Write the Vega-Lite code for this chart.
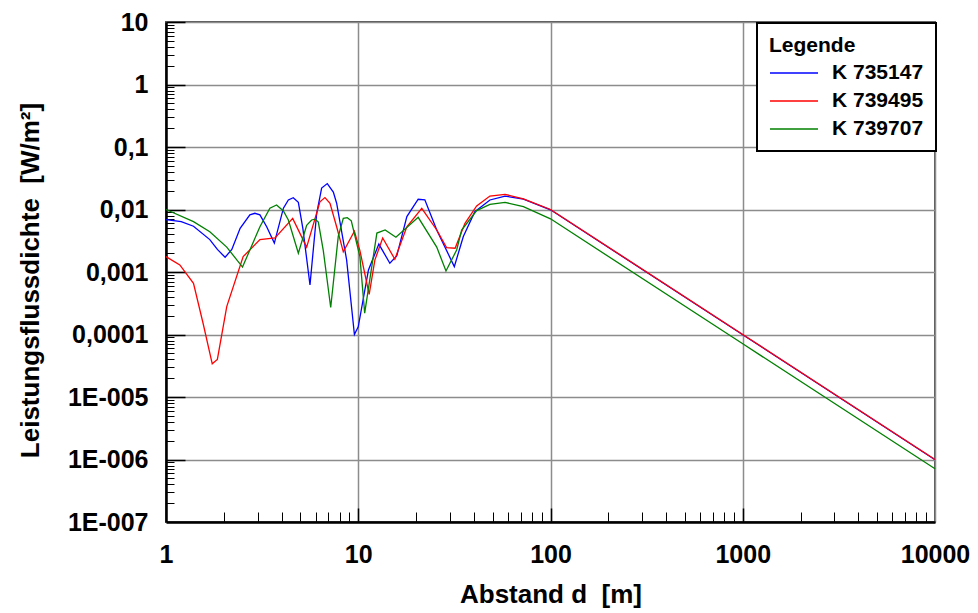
{
  "$schema": "https://vega.github.io/schema/vega-lite/v6.json",
  "width": 769,
  "height": 500,
  "autosize": "none",
  "padding": {"left": 166, "top": 22, "right": 43, "bottom": 91},
  "background": "white",
  "config": {
    "font": "Liberation Sans",
    "view": {"stroke": "#555555", "strokeWidth": 2},
    "legend": {"strokeWidth": 2},
    "axis": {
      "labelFont": "Liberation Sans", "labelFontWeight": "bold", "labelFontSize": 25, "labelColor": "black",
      "titleFont": "Liberation Sans", "titleFontWeight": "bold", "titleFontSize": 26, "titleColor": "black",
      "gridColor": "#8c8c8c", "gridWidth": 1.5, "gridOpacity": 1,
      "domainColor": "black", "domainWidth": 2.5, "tickColor": "black"
    }
  },
  "data": {"values": [
    {"s": "K 735147", "d": 1, "p": 0.0069},
    {"s": "K 735147", "d": 1.2, "p": 0.0064},
    {"s": "K 735147", "d": 1.39, "p": 0.0054},
    {"s": "K 735147", "d": 1.69, "p": 0.0033},
    {"s": "K 735147", "d": 1.85, "p": 0.0023},
    {"s": "K 735147", "d": 2.03, "p": 0.00172},
    {"s": "K 735147", "d": 2.2, "p": 0.0023},
    {"s": "K 735147", "d": 2.43, "p": 0.005},
    {"s": "K 735147", "d": 2.73, "p": 0.0082},
    {"s": "K 735147", "d": 2.9, "p": 0.0087},
    {"s": "K 735147", "d": 3.08, "p": 0.0082},
    {"s": "K 735147", "d": 3.34, "p": 0.0053},
    {"s": "K 735147", "d": 3.66, "p": 0.0029},
    {"s": "K 735147", "d": 4.08, "p": 0.0105},
    {"s": "K 735147", "d": 4.33, "p": 0.0142},
    {"s": "K 735147", "d": 4.59, "p": 0.0154},
    {"s": "K 735147", "d": 4.88, "p": 0.013},
    {"s": "K 735147", "d": 5.15, "p": 0.005},
    {"s": "K 735147", "d": 5.61, "p": 0.00062},
    {"s": "K 735147", "d": 6.08, "p": 0.0087},
    {"s": "K 735147", "d": 6.45, "p": 0.022},
    {"s": "K 735147", "d": 6.9, "p": 0.026},
    {"s": "K 735147", "d": 7.42, "p": 0.019},
    {"s": "K 735147", "d": 7.72, "p": 0.0126},
    {"s": "K 735147", "d": 8.7, "p": 0.00156},
    {"s": "K 735147", "d": 9.55, "p": 0.0001},
    {"s": "K 735147", "d": 10.0, "p": 0.000133},
    {"s": "K 735147", "d": 11.3, "p": 0.00108},
    {"s": "K 735147", "d": 12.8, "p": 0.0028},
    {"s": "K 735147", "d": 14.6, "p": 0.00138},
    {"s": "K 735147", "d": 15.85, "p": 0.0018},
    {"s": "K 735147", "d": 17.9, "p": 0.0077},
    {"s": "K 735147", "d": 20.5, "p": 0.0146},
    {"s": "K 735147", "d": 22.2, "p": 0.0143},
    {"s": "K 735147", "d": 25.6, "p": 0.0047},
    {"s": "K 735147", "d": 31.6, "p": 0.00122},
    {"s": "K 735147", "d": 35.2, "p": 0.0037},
    {"s": "K 735147", "d": 40.4, "p": 0.0092},
    {"s": "K 735147", "d": 48.4, "p": 0.0142},
    {"s": "K 735147", "d": 58, "p": 0.0164},
    {"s": "K 735147", "d": 72.3, "p": 0.0147},
    {"s": "K 735147", "d": 100, "p": 0.0099},
    {"s": "K 735147", "d": 1000, "p": 0.000099},
    {"s": "K 735147", "d": 10000, "p": 0.00000099},

    {"s": "K 739495", "d": 1, "p": 0.00176},
    {"s": "K 739495", "d": 1.18, "p": 0.0013},
    {"s": "K 739495", "d": 1.39, "p": 0.00066},
    {"s": "K 739495", "d": 1.56, "p": 0.00015},
    {"s": "K 739495", "d": 1.74, "p": 0.000034},
    {"s": "K 739495", "d": 1.85, "p": 0.00004},
    {"s": "K 739495", "d": 2.07, "p": 0.00028},
    {"s": "K 739495", "d": 2.52, "p": 0.00176},
    {"s": "K 739495", "d": 3.08, "p": 0.0033},
    {"s": "K 739495", "d": 3.69, "p": 0.0035},
    {"s": "K 739495", "d": 4.56, "p": 0.0072},
    {"s": "K 739495", "d": 5.39, "p": 0.0025},
    {"s": "K 739495", "d": 6.0, "p": 0.0077},
    {"s": "K 739495", "d": 6.32, "p": 0.0133},
    {"s": "K 739495", "d": 6.71, "p": 0.0155},
    {"s": "K 739495", "d": 7.13, "p": 0.0126},
    {"s": "K 739495", "d": 7.72, "p": 0.0053},
    {"s": "K 739495", "d": 8.36, "p": 0.0021},
    {"s": "K 739495", "d": 9.55, "p": 0.0045},
    {"s": "K 739495", "d": 10.2, "p": 0.0022},
    {"s": "K 739495", "d": 11.4, "p": 0.00044},
    {"s": "K 739495", "d": 12.2, "p": 0.00155},
    {"s": "K 739495", "d": 13.4, "p": 0.0035},
    {"s": "K 739495", "d": 15.5, "p": 0.0016},
    {"s": "K 739495", "d": 17.9, "p": 0.0053},
    {"s": "K 739495", "d": 21.4, "p": 0.0104},
    {"s": "K 739495", "d": 25.6, "p": 0.0047},
    {"s": "K 739495", "d": 28.8, "p": 0.00245},
    {"s": "K 739495", "d": 31.9, "p": 0.0024},
    {"s": "K 739495", "d": 35.9, "p": 0.006},
    {"s": "K 739495", "d": 41.3, "p": 0.0114},
    {"s": "K 739495", "d": 48.4, "p": 0.0164},
    {"s": "K 739495", "d": 58, "p": 0.0175},
    {"s": "K 739495", "d": 72.3, "p": 0.0148},
    {"s": "K 739495", "d": 100, "p": 0.01},
    {"s": "K 739495", "d": 1000, "p": 0.0001},
    {"s": "K 739495", "d": 10000, "p": 0.000001},

    {"s": "K 739707", "d": 1, "p": 0.01},
    {"s": "K 739707", "d": 1.39, "p": 0.0064},
    {"s": "K 739707", "d": 1.69, "p": 0.0044},
    {"s": "K 739707", "d": 2.07, "p": 0.0025},
    {"s": "K 739707", "d": 2.5, "p": 0.0012},
    {"s": "K 739707", "d": 3.08, "p": 0.0053},
    {"s": "K 739707", "d": 3.47, "p": 0.0105},
    {"s": "K 739707", "d": 3.76, "p": 0.0118},
    {"s": "K 739707", "d": 4.08, "p": 0.0095},
    {"s": "K 739707", "d": 4.33, "p": 0.0068},
    {"s": "K 739707", "d": 4.88, "p": 0.002},
    {"s": "K 739707", "d": 5.39, "p": 0.0056},
    {"s": "K 739707", "d": 5.72, "p": 0.0068},
    {"s": "K 739707", "d": 5.96, "p": 0.007},
    {"s": "K 739707", "d": 6.2, "p": 0.0063},
    {"s": "K 739707", "d": 6.58, "p": 0.0022},
    {"s": "K 739707", "d": 7.19, "p": 0.00027},
    {"s": "K 739707", "d": 7.87, "p": 0.0037},
    {"s": "K 739707", "d": 8.36, "p": 0.0072},
    {"s": "K 739707", "d": 8.77, "p": 0.0074},
    {"s": "K 739707", "d": 9.2, "p": 0.0066},
    {"s": "K 739707", "d": 10.2, "p": 0.00176},
    {"s": "K 739707", "d": 10.8, "p": 0.00022},
    {"s": "K 739707", "d": 12.5, "p": 0.0042},
    {"s": "K 739707", "d": 13.8, "p": 0.0047},
    {"s": "K 739707", "d": 15.7, "p": 0.0036},
    {"s": "K 739707", "d": 20.5, "p": 0.0075},
    {"s": "K 739707", "d": 25.6, "p": 0.0025},
    {"s": "K 739707", "d": 28.6, "p": 0.00104},
    {"s": "K 739707", "d": 32.5, "p": 0.00225},
    {"s": "K 739707", "d": 34.5, "p": 0.0047},
    {"s": "K 739707", "d": 41.3, "p": 0.0096},
    {"s": "K 739707", "d": 48.4, "p": 0.0121},
    {"s": "K 739707", "d": 58, "p": 0.013},
    {"s": "K 739707", "d": 72.3, "p": 0.0111},
    {"s": "K 739707", "d": 100, "p": 0.0071},
    {"s": "K 739707", "d": 1000, "p": 0.000071},
    {"s": "K 739707", "d": 10000, "p": 0.00000071}
  ]},
  "resolve": {"axis": {"x": "independent", "y": "independent"}},
  "layer": [
    {
      "mark": {"type": "line", "opacity": 0},
      "encoding": {
        "x": {"field": "d", "type": "quantitative", "scale": {"type": "log", "domain": [1, 10000], "nice": false},
          "axis": {"orient": "bottom", "values": [2,3,4,5,6,7,8,9,20,30,40,50,60,70,80,90,200,300,400,500,600,700,800,900,2000,3000,4000,5000,6000,7000,8000,9000],
            "labels": false, "domain": false, "grid": false, "ticks": true, "tickSize": -10, "tickWidth": 1, "title": null}},
        "y": {"field": "p", "type": "quantitative", "scale": {"type": "log", "domain": [0.0000001, 10], "nice": false},
          "axis": {"orient": "left", "values": [2e-7,3e-7,4e-7,5e-7,6e-7,7e-7,8e-7,9e-7,2e-6,3e-6,4e-6,5e-6,6e-6,7e-6,8e-6,9e-6,2e-5,3e-5,4e-5,5e-5,6e-5,7e-5,8e-5,9e-5,2e-4,3e-4,4e-4,5e-4,6e-4,7e-4,8e-4,9e-4,0.002,0.003,0.004,0.005,0.006,0.007,0.008,0.009,0.02,0.03,0.04,0.05,0.06,0.07,0.08,0.09,0.2,0.3,0.4,0.5,0.6,0.7,0.8,0.9,2,3,4,5,6,7,8,9],
            "labels": false, "domain": false, "grid": false, "ticks": true, "tickSize": -8, "tickWidth": 1, "title": null}}
      }
    },
    {
      "mark": {"type": "line", "opacity": 0},
      "encoding": {
        "x": {"field": "d", "type": "quantitative",
          "axis": {"orient": "bottom", "values": [10, 100, 1000], "labels": false, "domain": false, "grid": false, "ticks": true, "tickSize": -14, "tickWidth": 1.5, "title": null}},
        "y": {"field": "p", "type": "quantitative",
          "axis": {"orient": "left", "values": [0.000001, 0.00001, 0.0001, 0.001, 0.01, 0.1, 1, 10], "labels": false, "domain": false, "grid": false, "ticks": true, "tickSize": -19, "tickWidth": 1.5, "title": null}}
      }
    },
    {
      "mark": {"type": "line", "strokeWidth": 1.3},
      "encoding": {
        "x": {"field": "d", "type": "quantitative",
          "axis": {"orient": "bottom", "values": [1, 10, 100, 1000, 10000], "labelExpr": "format(datum.value, 'd')",
            "ticks": false, "tickSize": 0, "labelPadding": 40, "labelBaseline": "alphabetic", "labelFlush": false, "labelOverlap": false,
            "grid": true, "title": "Abstand d\u00a0 [m]", "titleBaseline": "alphabetic", "titleY": 80}},
        "y": {"field": "p", "type": "quantitative",
          "axis": {"orient": "left", "values": [0.0000001, 0.000001, 0.00001, 0.0001, 0.001, 0.01, 0.1, 1, 10],
            "labelExpr": "datum.value > 5 ? '10' : datum.value > 0.5 ? '1' : datum.value > 0.05 ? '0,1' : datum.value > 0.005 ? '0,01' : datum.value > 0.0005 ? '0,001' : datum.value > 0.00005 ? '0,0001' : datum.value > 0.000005 ? '1E-005' : datum.value > 0.0000005 ? '1E-006' : '1E-007'",
            "ticks": false, "tickSize": 0, "labelPadding": 18, "labelFlush": false, "labelOverlap": false,
            "grid": true, "title": "Leistungsflussdichte\u00a0 [W/m²]", "titleBaseline": "alphabetic", "titleX": -128, "titleY": 258}},
        "color": {"field": "s", "type": "nominal",
          "scale": {"domain": ["K 735147", "K 739495", "K 739707"], "range": ["#0000ff", "#ff0000", "#008000"]},
          "legend": {"orient": "none", "legendX": 591, "legendY": 1, "title": "Legende",
            "titleFont": "Liberation Sans", "titleFontSize": 21, "titleFontWeight": "bold", "titleColor": "black", "titlePadding": 2,
            "labelFont": "Liberation Sans", "labelFontSize": 21, "labelFontWeight": "bold", "labelColor": "black",
            "symbolType": "M-1,0H2.43", "symbolSize": 784, "symbolStrokeWidth": 1.5,
            "labelOffset": 33, "padding": 12, "rowPadding": 3,
            "strokeColor": "black", "fillColor": "white", "cornerRadius": 0}}
      }
    }
  ]
}
